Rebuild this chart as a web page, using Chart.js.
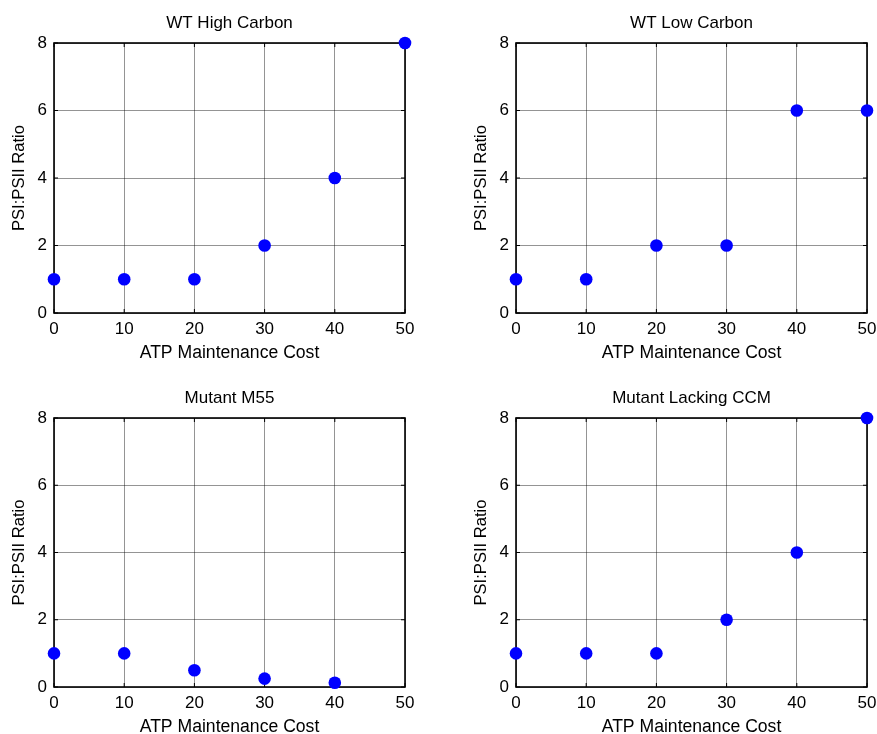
<!DOCTYPE html>
<html>
<head>
<meta charset="utf-8">
<script src="https://cdn.jsdelivr.net/npm/chart.js@4.4.1/dist/chart.umd.min.js"></script>
<style>
  html, body { margin: 0; padding: 0; background: #fff; }
  #page { position: relative; width: 877px; height: 734px; overflow: hidden; }
  #page canvas { position: absolute; }
</style>
</head>
<body>
<div id="page">
  <canvas id="wt-high" width="438" height="367" style="left:0;top:0"></canvas>
  <canvas id="wt-low" width="439" height="367" style="left:438px;top:0"></canvas>
  <canvas id="m55" width="438" height="367" style="left:0;top:367px"></canvas>
  <canvas id="no-ccm" width="439" height="367" style="left:438px;top:367px"></canvas>
</div>
<script>
// Données
const atpCost = [0, 10, 20, 30, 40, 50];
const wtHighCarbon = [1, 1, 1, 2, 4, 8];
const wtLowCarbon = [1, 1, 2, 2, 6, 6];
const mutantM55 = [1, 1, 0.5, 0.25, 0.125];
const mutantNoCcm = [1, 1, 1, 2, 4, 8];

const xTicks = [0, 10, 20, 30, 40, 50];
const yTicks = [0, 2, 4, 6, 8];

const xLabel = 'ATP Maintenance Cost';
const yLabel = 'PSI:PSII Ratio';

const FONT = "'Liberation Sans', Arial, Helvetica, sans-serif";

// Cadre façon MATLAB : boîte complète + petits tirets vers l'intérieur
const boxPlugin = {
  id: 'matlabBox',
  beforeDatasetsDraw(chart) {
    const { ctx, chartArea: a, scales } = chart;
    ctx.save();
    ctx.strokeStyle = '#000';
    ctx.lineWidth = 1;
    ctx.beginPath();
    xTicks.forEach(v => {
      const px = scales.x.getPixelForValue(v);
      ctx.moveTo(px, a.bottom); ctx.lineTo(px, a.bottom - 4);
      ctx.moveTo(px, a.top); ctx.lineTo(px, a.top + 4);
    });
    yTicks.forEach(v => {
      const py = scales.y.getPixelForValue(v);
      ctx.moveTo(a.left, py); ctx.lineTo(a.left + 4, py);
      ctx.moveTo(a.right, py); ctx.lineTo(a.right - 4, py);
    });
    ctx.stroke();
    ctx.lineWidth = 1.6;
    ctx.strokeRect(a.left, a.top, a.right - a.left, a.bottom - a.top);
    ctx.restore();
  }
};

// Crée un sous-graphique ; area = zone de tracé dans le canvas
function makePanel(id, title, xs, ys, area) {
  const canvas = document.getElementById(id);
  const H = canvas.height;
  const points = ys.map((y, i) => ({ x: xs[i], y: y }));

  return new Chart(canvas, {
    type: 'scatter',
    data: {
      datasets: [{
        data: points,
        pointRadius: 6.3,
        pointHoverRadius: 6.3,
        pointBackgroundColor: '#0000ff',
        pointBorderColor: '#0000ff',
        pointBorderWidth: 0,
        clip: false
      }]
    },
    options: {
      responsive: false,
      animation: false,
      layout: { padding: { left: 0, top: 0, right: canvas.width - area.right, bottom: 0 } },
      plugins: {
        legend: { display: false },
        tooltip: { enabled: false },
        title: {
          display: true,
          fullSize: false,
          text: title,
          color: '#000',
          font: { family: FONT, size: 17, weight: 'normal', lineHeight: 1.2 },
          padding: { top: area.top - 29.4, bottom: 9 }
        }
      },
      scales: {
        x: {
          type: 'linear',
          min: 0,
          max: 50,
          afterFit: s => {
            s.height = H - area.bottom;
            s.paddingLeft = 0;
            s.paddingRight = 0;
          },
          afterBuildTicks: s => { s.ticks = xTicks.map(v => ({ value: v })); },
          ticks: { color: '#000', padding: 6, font: { family: FONT, size: 17 } },
          grid: { color: 'rgba(0,0,0,0.42)', lineWidth: 1, drawTicks: false },
          border: { display: false },
          title: {
            display: true,
            text: xLabel,
            color: '#000',
            font: { family: FONT, size: 17.6, lineHeight: 1.2 },
            padding: { top: 0, bottom: H - 10.5 - area.xTitle }
          }
        },
        y: {
          type: 'linear',
          min: 0,
          max: 8,
          afterFit: s => {
            s.width = area.left;
            s.paddingTop = 0;
            s.paddingBottom = 0;
          },
          afterBuildTicks: s => { s.ticks = yTicks.map(v => ({ value: v })); },
          ticks: { color: '#000', padding: 7, font: { family: FONT, size: 17 } },
          grid: { color: 'rgba(0,0,0,0.42)', lineWidth: 1, drawTicks: false },
          border: { display: false },
          title: {
            display: true,
            text: yLabel,
            color: '#000',
            font: { family: FONT, size: 16.6, lineHeight: 1.2 },
            padding: { top: area.left - 44.5, bottom: 0 }
          }
        }
      }
    },
    plugins: [boxPlugin]
  });
}

makePanel('wt-high', 'WT High Carbon', atpCost, wtHighCarbon,
  { left: 54, top: 43, right: 405, bottom: 313, xTitle: 353 });
makePanel('wt-low', 'WT Low Carbon', atpCost, wtLowCarbon,
  { left: 78, top: 43, right: 429, bottom: 313, xTitle: 353 });
makePanel('m55', 'Mutant M55', atpCost, mutantM55,
  { left: 54, top: 51, right: 405, bottom: 320, xTitle: 360 });
makePanel('no-ccm', 'Mutant Lacking CCM', atpCost, mutantNoCcm,
  { left: 78, top: 51, right: 429, bottom: 320, xTitle: 360 });
</script>
</body>
</html>
